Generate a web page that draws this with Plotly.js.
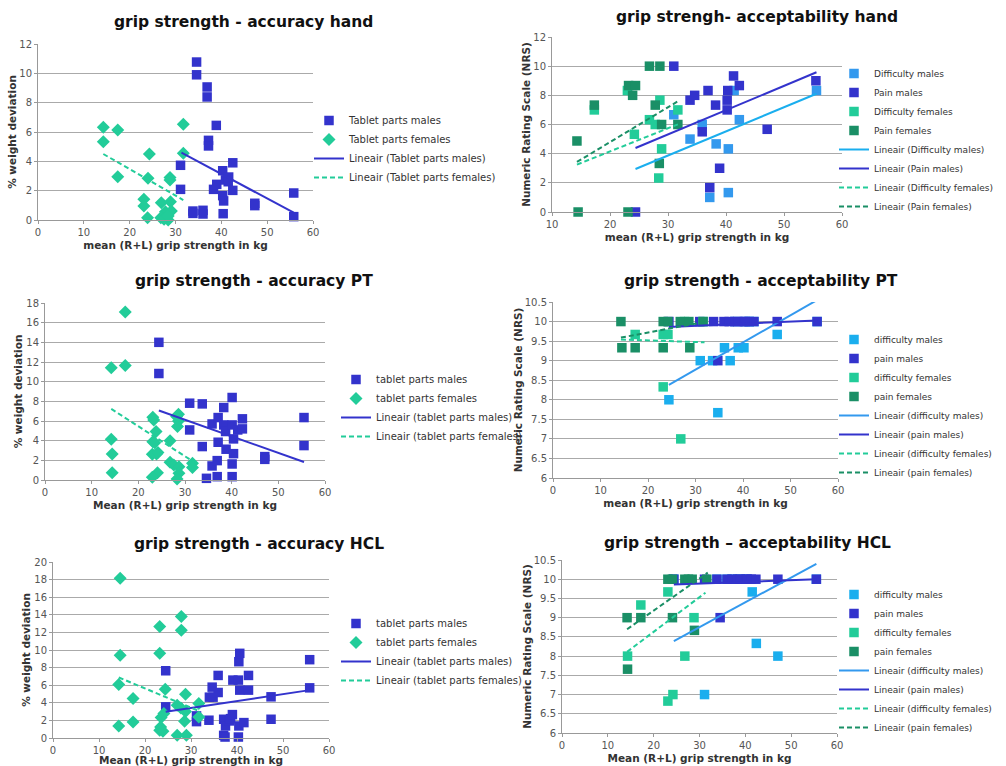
<!DOCTYPE html>
<html>
<head>
<meta charset="utf-8">
<script src="https://cdn.plot.ly/plotly-3.0.1.min.js"></script>
<style>html,body{margin:0;padding:0;background:#fff;} #chart{width:1006px;height:766px;}</style>
</head>
<body>
<div id="chart"></div>
<script>
// ---------- Panel 1: grip strength - accuracy hand ----------
const handMaleX = [34.6,34.6,36.9,36.9,38.9,37.2,37.2,31.1,31.1,33.8,33.8,36.0,36.0,38.3,39.0,40.3,40.3,40.5,40.4,40.9,41.6,41.5,42.5,42.5,47.3,47.3,55.8,55.8];
const handMaleY = [10.77,9.9,9.07,8.39,6.45,5.43,5.05,3.73,2.09,0.61,0.45,0.66,0.41,2.09,2.43,3.36,1.66,1.3,0.43,2.73,2.93,2.61,3.9,2.02,1.14,0.98,1.84,0.23];
const handFemX = [14.25,14.25,17.4,17.4,31.7,31.7,24.3,24.0,23.1,23.1,23.9,28.8,28.8,26.9,28.9,27.8,27.8,26.8,29.1,28.4,27.5,28.4];
const handFemY = [6.32,5.34,6.14,2.95,6.52,4.55,4.5,2.84,1.41,0.95,0.16,2.89,2.73,1.18,1.25,0.57,0.34,0.16,0.61,0.0,0.05,0.27];
const handMaleTrendX = [31.3,55.8], handMaleTrendY = [4.59,0.5];
const handFemTrendX = [14.25,31.7], handFemTrendY = [4.5,1.36];

// ---------- Panel 2: grip strengh- acceptability hand ----------
const hDiffMaleX = [31.0,33.8,35.9,38.3,40.4,40.4,37.2,41.4,42.3,55.6];
const hDiffMaleY = [6.67,5.0,6.0,4.67,4.33,1.33,1.0,8.33,6.33,8.33];
const hPainMaleX = [31.0,33.8,34.6,36.9,35.9,38.2,40.2,40.2,40.3,41.3,42.3,37.2,38.9,47.1,55.5,24.4];
const hPainMaleY = [10,7.67,8.0,8.33,5.5,7.33,7.0,7.67,8.33,9.33,8.67,1.67,3.0,5.67,9.0,0];
const hDiffFemX = [17.3,23.0,28.6,26.8,27.8,31.7,24.2,28.9,28.4];
const hDiffFemY = [7.0,8.33,7.67,6.33,6.0,7.0,5.33,4.33,2.33];
const hPainFemX = [26.8,28.6,23.2,24.4,23.9,17.3,27.8,28.9,31.7,14.3,28.5,14.5,23.1];
const hPainFemY = [10,10,8.67,8.67,8.0,7.33,7.33,6.0,6.0,4.87,3.33,0,0];
const hDiffMaleTrendX = [24.4,55.6], hDiffMaleTrendY = [2.95,8.11];
const hPainMaleTrendX = [24.4,55.6], hPainMaleTrendY = [4.39,9.58];
const hDiffFemTrendX = [14.3,31.7], hDiffFemTrendY = [3.25,6.01];
const hPainFemTrendX = [14.3,31.7], hPainFemTrendY = [3.43,7.59];

// ---------- Panel 3: grip strength - accuracy PT ----------
const ptMaleX = [24.4,24.4,31.0,31.0,33.7,33.7,34.6,35.8,35.8,37.1,37.1,36.9,36.9,38.3,38.3,38.7,38.8,40.1,40.1,40.4,40.4,40.1,40.1,41.3,42.3,42.3,47.1,47.1,55.5,55.5];
const ptMaleY = [14.0,10.83,7.81,5.09,7.74,3.4,0.17,5.7,1.43,6.35,3.84,1.97,0.34,7.37,5.6,4.93,3.13,8.39,5.6,4.18,2.68,1.63,0.34,5.09,5.2,6.22,2.38,2.1,6.35,3.5];
const ptFemX = [17.2,17.2,14.2,14.2,14.4,14.4,23.1,23.3,23.1,23.5,23.8,23.0,23.9,24.2,24.1,23.0,26.8,26.8,27.6,28.6,28.2,28.6,28.4,28.7,28.7,28.3,31.6,31.6];
const ptFemY = [17.09,11.65,11.41,4.14,2.65,0.75,6.39,6.11,3.9,3.8,4.93,2.62,2.65,2.79,0.75,0.27,4.0,1.8,1.53,6.69,6.45,6.01,5.43,1.36,0.68,0.1,1.7,1.26];
const ptMaleTrendX = [24.4,55.5], ptMaleTrendY = [7.07,1.83];
const ptFemTrendX = [14.2,32.1], ptFemTrendY = [7.23,1.77];

// ---------- Panel 4: grip strength - acceptability PT ----------
const pDiffMaleX = [24.4,31.0,33.6,34.7,36.1,37.3,39.0,40.2,47.2,38.3,40.4,41.3,42.3,55.6];
const pDiffMaleY = [8.0,9.0,9.0,7.67,9.33,9.0,9.33,9.33,9.67,10,10,10,10,10];
const pPainMaleX = [24.4,30.9,33.8,34.7,36.0,37.1,38.3,38.9,40.2,40.4,41.3,42.3,47.2,55.6];
const pPainMaleY = [10,10,10,9.0,10,10,10,10,10,10,10,10,10,10];
const pDiffFemX = [17.3,23.2,24.2,23.2,26.9,27.7,31.6];
const pDiffFemY = [9.67,9.67,9.67,8.33,7.0,10,10];
const pPainFemX = [14.3,14.5,17.3,23.2,23.2,24.2,26.8,28.6,28.8,31.6];
const pPainFemY = [10,9.33,9.33,10,9.33,10,10,10,9.33,10];
const pDiffMaleTrendX = [24.4,55.6], pDiffMaleTrendY = [8.38,10.55];
const pPainMaleTrendX = [24.4,55.6], pPainMaleTrendY = [9.86,10.03];
const pDiffFemTrendX = [14.3,31.9], pDiffFemTrendY = [9.54,9.47];
const pPainFemTrendX = [14.3,31.9], pPainFemTrendY = [9.59,9.99];

// ---------- Panel 5: grip strength - accuracy HCL ----------
const hclMaleX = [24.5,24.5,31.2,31.2,33.9,34.6,34.0,34.8,35.9,35.9,37.1,37.1,37.4,37.5,38.4,38.6,39.0,39.1,40.3,40.4,40.6,40.4,40.3,40.6,41.5,42.5,42.5,47.4,47.4,55.8,55.8];
const hclMaleY = [7.64,3.54,2.51,1.86,2.02,5.78,4.64,4.64,7.11,5.17,2.13,0.3,0.11,1.37,1.94,2.2,2.66,6.58,6.58,8.67,9.62,1.37,0.11,5.44,1.75,7.11,5.44,4.68,2.13,8.9,5.7];
const hclFemX = [14.6,14.6,14.3,14.3,17.4,17.4,23.2,23.2,24.4,23.5,24.1,23.4,23.2,23.9,27.0,27.9,27.9,27.0,28.8,28.8,28.6,29.0,27.8,31.7,31.7];
const hclFemY = [18.14,9.39,6.08,1.37,4.49,1.83,12.66,9.62,5.55,2.32,2.78,1.25,0.87,0.76,0.3,13.8,12.24,3.73,4.98,3.0,1.9,0.3,3.42,3.92,2.4];
const hclMaleTrendX = [24.5,55.8], hclMaleTrendY = [2.97,5.44];
const hclFemTrendX = [14.3,31.7], hclFemTrendY = [6.88,3.08];

// ---------- Panel 6: grip strength – acceptability HCL ----------
const cDiffMaleX = [31.1,41.5,42.4,47.1,24.4,33.8,36.0,37.1,38.3,38.9,40.2,40.4,55.5];
const cDiffMaleY = [7.0,9.67,8.33,8.0,10,10,10,10,10,10,10,10,10];
const cPainMaleX = [24.4,31.1,33.8,34.5,36.0,37.1,38.3,38.9,40.2,40.4,41.3,42.3,47.1,55.5];
const cPainMaleY = [10,10,10,9.0,10,10,10,10,10,10,10,10,10,10];
const cDiffFemX = [14.3,17.2,23.1,23.1,24.2,26.8,28.8];
const cDiffFemY = [8.0,9.33,9.67,6.83,7.0,8.0,9.0];
const cPainFemX = [14.2,14.3,17.2,23.1,24.1,24.1,26.8,27.6,28.4,28.9,31.6];
const cPainFemY = [9.0,7.66,9.0,10,10,9.0,10,10,10,8.67,10];
const cDiffMaleTrendX = [24.4,55.5], cDiffMaleTrendY = [8.39,10.40];
const cPainMaleTrendX = [24.4,55.5], cPainMaleTrendY = [9.86,10.0];
const cDiffFemTrendX = [14.2,31.3], cDiffFemTrendY = [8.11,9.65];
const cPainFemTrendX = [14.2,31.8], cPainFemTrendY = [8.70,10.17];

// ---------- styling ----------
const FONT = 'DejaVu Sans, Verdana, sans-serif';
const BLUE = '#3333cc', GREEN = '#22cc99', LBLUE = '#3399ee', CYAN = '#1aaeee', DGREEN = '#1a8f66';

function pts(name, x, y, color, symbol, n, size) {
  const ax = n === 1 ? '' : String(n);
  return {type:'scatter', mode:'markers', name, x, y, xaxis:'x'+ax, yaxis:'y'+ax,
    legend: n === 1 ? 'legend' : 'legend'+n, cliponaxis:false,
    marker:{color, symbol, size: size || 9.5, line:{width:0}}};
}
function trend(name, x, y, color, dash, n) {
  const ax = n === 1 ? '' : String(n);
  return {type:'scatter', mode:'lines', name, x, y, xaxis:'x'+ax, yaxis:'y'+ax,
    legend: n === 1 ? 'legend' : 'legend'+n,
    line:{color, width:2, dash: dash ? '5px,3px' : 'solid'}};
}

const traces = [
  pts('Tablet parts males', handMaleX, handMaleY, BLUE, 'square', 1),
  pts('Tablet parts females', handFemX, handFemY, GREEN, 'diamond', 1, 10),
  trend('Lineair (Tablet parts males)', handMaleTrendX, handMaleTrendY, BLUE, false, 1),
  trend('Lineair (Tablet parts females)', handFemTrendX, handFemTrendY, GREEN, true, 1),

  pts('Difficulty males', hDiffMaleX, hDiffMaleY, LBLUE, 'square', 2),
  pts('Pain males', hPainMaleX, hPainMaleY, BLUE, 'square', 2),
  pts('Difficulty females', hDiffFemX, hDiffFemY, GREEN, 'square', 2),
  pts('Pain females', hPainFemX, hPainFemY, DGREEN, 'square', 2),
  trend('Lineair (Difficulty males)', hDiffMaleTrendX, hDiffMaleTrendY, CYAN, false, 2),
  trend('Lineair (Pain males)', hPainMaleTrendX, hPainMaleTrendY, BLUE, false, 2),
  trend('Lineair (Difficulty females)', hDiffFemTrendX, hDiffFemTrendY, GREEN, true, 2),
  trend('Lineair (Pain females)', hPainFemTrendX, hPainFemTrendY, DGREEN, true, 2),

  pts('tablet parts males', ptMaleX, ptMaleY, BLUE, 'square', 3),
  pts('tablet parts females', ptFemX, ptFemY, GREEN, 'diamond', 3, 10),
  trend('Lineair (tablet parts males)', ptMaleTrendX, ptMaleTrendY, BLUE, false, 3),
  trend('Lineair (tablet parts females)', ptFemTrendX, ptFemTrendY, GREEN, true, 3),

  pts('difficulty males', pDiffMaleX, pDiffMaleY, CYAN, 'square', 4),
  pts('pain males', pPainMaleX, pPainMaleY, BLUE, 'square', 4),
  pts('difficulty females', pDiffFemX, pDiffFemY, GREEN, 'square', 4),
  pts('pain females', pPainFemX, pPainFemY, DGREEN, 'square', 4),
  trend('Lineair (difficulty males)', pDiffMaleTrendX, pDiffMaleTrendY, LBLUE, false, 4),
  trend('Lineair (pain males)', pPainMaleTrendX, pPainMaleTrendY, BLUE, false, 4),
  trend('Lineair (difficulty females)', pDiffFemTrendX, pDiffFemTrendY, GREEN, true, 4),
  trend('Lineair (pain females)', pPainFemTrendX, pPainFemTrendY, DGREEN, true, 4),

  pts('tablet parts males', hclMaleX, hclMaleY, BLUE, 'square', 5),
  pts('tablet parts females', hclFemX, hclFemY, GREEN, 'diamond', 5, 10),
  trend('Lineair (tablet parts males)', hclMaleTrendX, hclMaleTrendY, BLUE, false, 5),
  trend('Lineair (tablet parts females)', hclFemTrendX, hclFemTrendY, GREEN, true, 5),

  pts('difficulty males', cDiffMaleX, cDiffMaleY, CYAN, 'square', 6),
  pts('pain males', cPainMaleX, cPainMaleY, BLUE, 'square', 6),
  pts('difficulty females', cDiffFemX, cDiffFemY, GREEN, 'square', 6),
  pts('pain females', cPainFemX, cPainFemY, DGREEN, 'square', 6),
  trend('Lineair (difficulty males)', cDiffMaleTrendX, cDiffMaleTrendY, LBLUE, false, 6),
  trend('Lineair (pain males)', cPainMaleTrendX, cPainMaleTrendY, BLUE, false, 6),
  trend('Lineair (difficulty females)', cDiffFemTrendX, cDiffFemTrendY, GREEN, true, 6),
  trend('Lineair (pain females)', cPainFemTrendX, cPainFemTrendY, DGREEN, true, 6),
];

const W = 1006, H = 766;
const px = v => v / W, py = v => 1 - v / H;

function xAxis(l, r, range, title, anchor) {
  return {domain:[px(l), px(r)], range, dtick:10, anchor, showgrid:false, zeroline:false,
    showline:true, linecolor:'#999', linewidth:1, ticks:'outside', ticklen:3, tickcolor:'#999',
    tickfont:{family:FONT, size:10, color:'#555'}, automargin:false, fixedrange:true,
    title:{text:title, font:{family:FONT, size:10.5, color:'#333', weight:'bold'}, standoff:4}};
}
function yAxis(top, bot, range, dtick, title, anchor, standoff) {
  return {domain:[py(bot), py(top)], range, dtick, anchor, showgrid:true, gridcolor:'#aaa', gridwidth:1,
    zeroline:false, showline:true, linecolor:'#999', linewidth:1, ticks:'outside', ticklen:3, tickcolor:'#999',
    tickfont:{family:FONT, size:10, color:'#555'}, automargin:false, fixedrange:true,
    title:{text:title, font:{family:FONT, size:10.5, color:'#333', weight:'bold'}, standoff:standoff}};
}
function legend(x, ytop, size) {
  return {x:px(x), y:py(ytop), xanchor:'left', yanchor:'top', bgcolor:'rgba(0,0,0,0)',
    font:{family:FONT, size:size, color:'#333'}, tracegroupgap:0, itemwidth:30};
}
function title(text, x, y) {
  return {text:'<b>'+text+'</b>', x:px(x), y:py(y), xref:'paper', yref:'paper', showarrow:false,
    xanchor:'center', yanchor:'middle', font:{family:FONT, size:15.5, color:'#111'}};
}

const layout = {
  width:W, height:H, margin:{l:0, r:0, t:0, b:0}, paper_bgcolor:'#fff', plot_bgcolor:'#fff',
  font:{family:FONT}, showlegend:true,
  xaxis:  xAxis(38, 313, [0,60], 'mean (R+L) grip strength in kg', 'y'),
  yaxis:  yAxis(44, 220, [0,12], 2, '% weight deviation', 'x', 0),
  xaxis2: xAxis(552, 842, [10,60], 'mean (R+L) grip strength in kg', 'y2'),
  yaxis2: yAxis(37, 212, [0,12], 2, 'Numeric Rating Scale (NRS)', 'x2', 0),
  xaxis3: xAxis(45, 325, [0,60], 'Mean (R+L) grip strength in kg', 'y3'),
  yaxis3: yAxis(303, 480, [0,18], 2, '% weight deviation', 'x3', 1),
  xaxis4: xAxis(553, 838, [0,60], 'mean (R+L) grip strength in kg', 'y4'),
  yaxis4: yAxis(302, 478, [6,10.5], 0.5, 'Numeric Rating Scale (NRS)', 'x4', 0),
  xaxis5: xAxis(53, 329, [0,60], 'Mean (R+L) grip strength in kg', 'y5'),
  yaxis5: yAxis(562, 738, [0,20], 2, '% weight deviation', 'x5', 1),
  xaxis6: xAxis(562, 837, [0,60], 'Mean (R+L) grip strength in kg', 'y6'),
  yaxis6: yAxis(560, 733, [6,10.5], 0.5, 'Numeric Rating Scale (NRS)', 'x6', 0),
  legend:  legend(309, 106, 10),
  legend2: legend(834, 59, 9),
  legend3: legend(336, 365, 10),
  legend4: legend(834, 325, 9),
  legend5: legend(336, 609, 10),
  legend6: legend(834, 580, 9),
  annotations: [
    title('grip strength - accuracy hand', 243, 22),
    title('grip strengh- acceptability hand', 757, 17),
    title('grip strength - accuracy PT', 254, 281),
    title('grip strength - acceptability PT', 761, 281),
    title('grip strength - accuracy HCL', 259, 544),
    title('grip strength – acceptability HCL', 747, 543),
  ],
};

Plotly.newPlot('chart', traces, layout, {displayModeBar:false, staticPlot:true});
</script>
</body>
</html>
